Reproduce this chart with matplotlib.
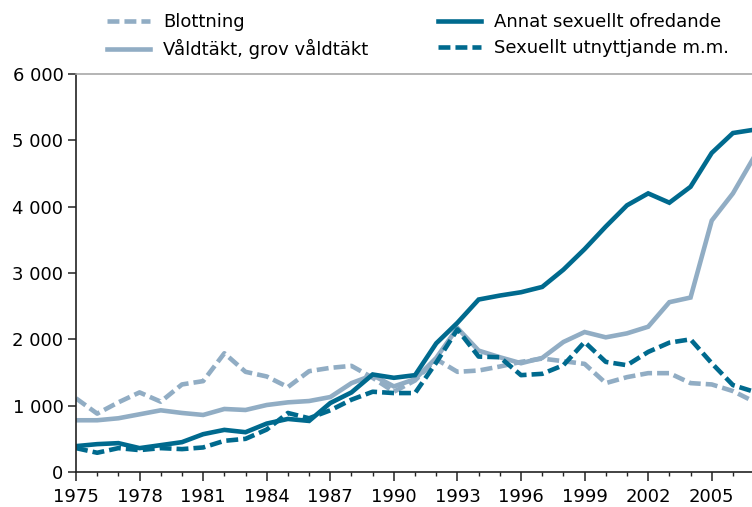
import matplotlib.pyplot as plt
from matplotlib.ticker import FuncFormatter, MultipleLocator

years = list(range(1975, 2008))

blottning = [1110, 880, 1050, 1200, 1060, 1320, 1370, 1790, 1510, 1440, 1280, 1520, 1570,
             1600, 1420, 1210, 1380, 1700, 1510, 1530, 1590, 1660, 1710, 1670, 1630, 1340,
             1430, 1490, 1490, 1340, 1320, 1220, 1060]
valdtakt = [780, 780, 810, 870, 930, 890, 860, 950, 935, 1010, 1050, 1070, 1130,
            1340, 1460, 1290, 1400, 1720, 2170, 1830, 1730, 1640, 1720, 1960, 2110, 2030,
            2090, 2190, 2560, 2630, 3790, 4200, 4750]
annat = [390, 420, 435, 360, 405, 450, 570, 635, 600, 730, 800, 770, 1040,
         1200, 1470, 1420, 1460, 1940, 2250, 2600, 2660, 2710, 2790, 3050, 3360, 3700,
         4020, 4200, 4060, 4300, 4810, 5110, 5160]
utnyttjande = [360, 290, 360, 330, 360, 345, 370, 470, 500, 640, 890, 810, 930,
               1090, 1210, 1190, 1190, 1650, 2150, 1740, 1730, 1460, 1480, 1610, 1960, 1660,
               1610, 1810, 1950, 2000, 1640, 1310, 1210]

labels = ["Blottning", "Våldtäkt, grov våldtäkt", "Annat sexuellt ofredande",
          "Sexuellt utnyttjande m.m."]
xticks = list(range(1975, 2006, 3))

dark = "#006a8e"
light = "#91adc4"

plt.rcParams['font.family'] = ['DejaVu Sans']
fs = 13

fig = plt.figure(figsize=(7.52, 5.07), dpi=100)
ax = fig.add_axes([76 / 752, 35 / 507, 1 - 76 / 752, 398 / 507])

lw = 3.3
dash = (2.6, 1.1)
h1, = ax.plot(years, blottning, color=light, lw=lw, dashes=dash, label=labels[0])
h2, = ax.plot(years, valdtakt, color=light, lw=lw, label=labels[1])
h3, = ax.plot(years, annat, color=dark, lw=lw, label=labels[2])
h4, = ax.plot(years, utnyttjande, color=dark, lw=lw, dashes=dash, label=labels[3])
for h in (h1, h2, h3, h4):
    h.set_solid_joinstyle('miter')
    h.set_dash_capstyle('butt')

ax.set_xlim(1975, 2006.9)
ax.set_ylim(0, 6000)
ax.set_xticks(xticks)
ax.set_xticks(years[:-1], minor=True)
ax.yaxis.set_major_locator(MultipleLocator(1000))
ax.yaxis.set_major_formatter(FuncFormatter(lambda v, p: f"{int(v):,}".replace(",", " ")))

ax.spines['right'].set_visible(False)
ax.spines['top'].set_color('#a8a8a8')
ax.spines['top'].set_linewidth(1.2)
for s in ('left', 'bottom'):
    ax.spines[s].set_color('#222222')
    ax.spines[s].set_linewidth(1.2)

ax.tick_params(axis='x', which='major', length=6.5, width=1.1, color='#222222',
               labelsize=fs, pad=5)
ax.tick_params(axis='x', which='minor', length=3, width=1.0, color='#222222')
ax.tick_params(axis='y', which='major', length=6, width=1.1, color='#222222',
               labelsize=fs, pad=3)

fig.legend(handles=[h1, h2, h3, h4], ncol=2, loc='upper left',
           bbox_to_anchor=(107 / 752, 1 - 13 / 507), frameon=False, fontsize=fs,
           handlelength=2.4, handletextpad=0.7, columnspacing=3.85,
           labelspacing=0.45, borderaxespad=0, borderpad=0)

plt.savefig("out.png", dpi=100)
